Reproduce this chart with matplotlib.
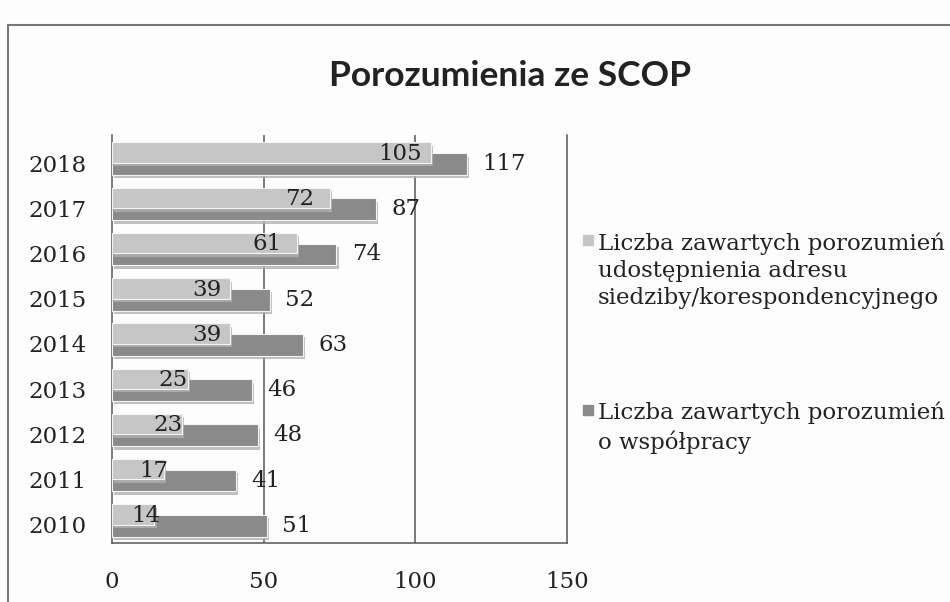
import matplotlib.pyplot as plt
import matplotlib.patheffects as pe
from matplotlib.patches import Rectangle
import numpy as np

# data
years = ['2010', '2011', '2012', '2013', '2014', '2015', '2016', '2017', '2018']
adres = [14, 17, 23, 25, 39, 39, 61, 72, 105]        # light series
wspolpraca = [51, 41, 48, 46, 63, 52, 74, 87, 117]   # dark series
series_labels = ['Liczba zawartych porozumień\nudostępnienia adresu\nsiedziby/korespondencyjnego',
                 'Liczba zawartych porozumień\no współpracy']
title = 'Porozumienia ze SCOP'

light = '#c6c6c6'
dark = '#8a8a8a'
serif = 'DejaVu Serif'
fs = 16.5

fig = plt.figure(figsize=(9.5, 6.02), dpi=100)
fig.patch.set_facecolor('#fdfdfd')

# outer frame of the chart (cut off at right and bottom)
fig.add_artist(Rectangle((8 / 950, -0.05), 1.0, (602 - 25) / 602 + 0.05,
                         transform=fig.transFigure, fill=False,
                         edgecolor='#777777', linewidth=1.5))

ax = fig.add_axes([112 / 950, (602 - 543) / 602, 455 / 950, 408 / 602])
ax.set_facecolor('none')

y = np.arange(len(years))
shadow = [pe.SimplePatchShadow(offset=(1.5, -2.5), shadow_rgbFace='#b0b0b0', alpha=0.8), pe.Normal()]

bd = ax.barh(y - 0.02, wspolpraca, height=0.48, color=dark,
             edgecolor='#f4f4f4', linewidth=0.8, zorder=3, path_effects=shadow)
bl = ax.barh(y + 0.23, adres, height=0.45, color=light,
             edgecolor='#f4f4f4', linewidth=0.8, zorder=4, path_effects=shadow)

# value labels
for yi, v in zip(y, adres):
    ax.text(max(v - 10, v * 0.8), yi + 0.2, str(v), ha='center', va='center',
            fontsize=fs, family=serif, color='#222222', zorder=6)
for yi, v in zip(y, wspolpraca):
    ax.annotate(str(v), (v, yi - 0.02), xytext=(11, 0), textcoords='offset points',
                ha='left', va='center', fontsize=fs, family=serif,
                color='#222222', zorder=6)

ax.set_xlim(0, 150)
ax.set_ylim(-0.4, 8.62)
ax.set_xticks([0, 50, 100, 150])
ax.set_yticks(y)
ax.set_yticklabels(years)
ax.tick_params(length=0, labelsize=fs, colors='#222222')
ax.tick_params(axis='y', pad=18)
ax.tick_params(axis='x', pad=20)
for lab in ax.get_xticklabels() + ax.get_yticklabels():
    lab.set_family(serif)

for x in [50, 100]:
    ax.axvline(x, color='#555555', linewidth=1.1, zorder=1)
ax.spines['top'].set_visible(False)
for s in ['left', 'right', 'bottom']:
    ax.spines[s].set_color('#555555')
    ax.spines[s].set_linewidth(1.1)

fig.text(510 / 950, 1 - 76 / 602, title, ha='center', va='center',
         fontsize=25.5, fontweight='bold', family='Lato', color='#222222')

# legend drawn by hand
legend_y = [240, 410]
for lab, col, ly in zip(series_labels, [light, dark], legend_y):
    fig.add_artist(Rectangle((583 / 950, 1 - (ly + 5) / 602), 10 / 950, 10 / 602,
                             transform=fig.transFigure, color=col))
    fig.text(598 / 950, 1 - (ly - 8) / 602, lab, ha='left', va='top',
             fontsize=fs, family=serif, color='#222222', linespacing=1.3)

fig.savefig('out.png', dpi=100, facecolor=fig.get_facecolor())
